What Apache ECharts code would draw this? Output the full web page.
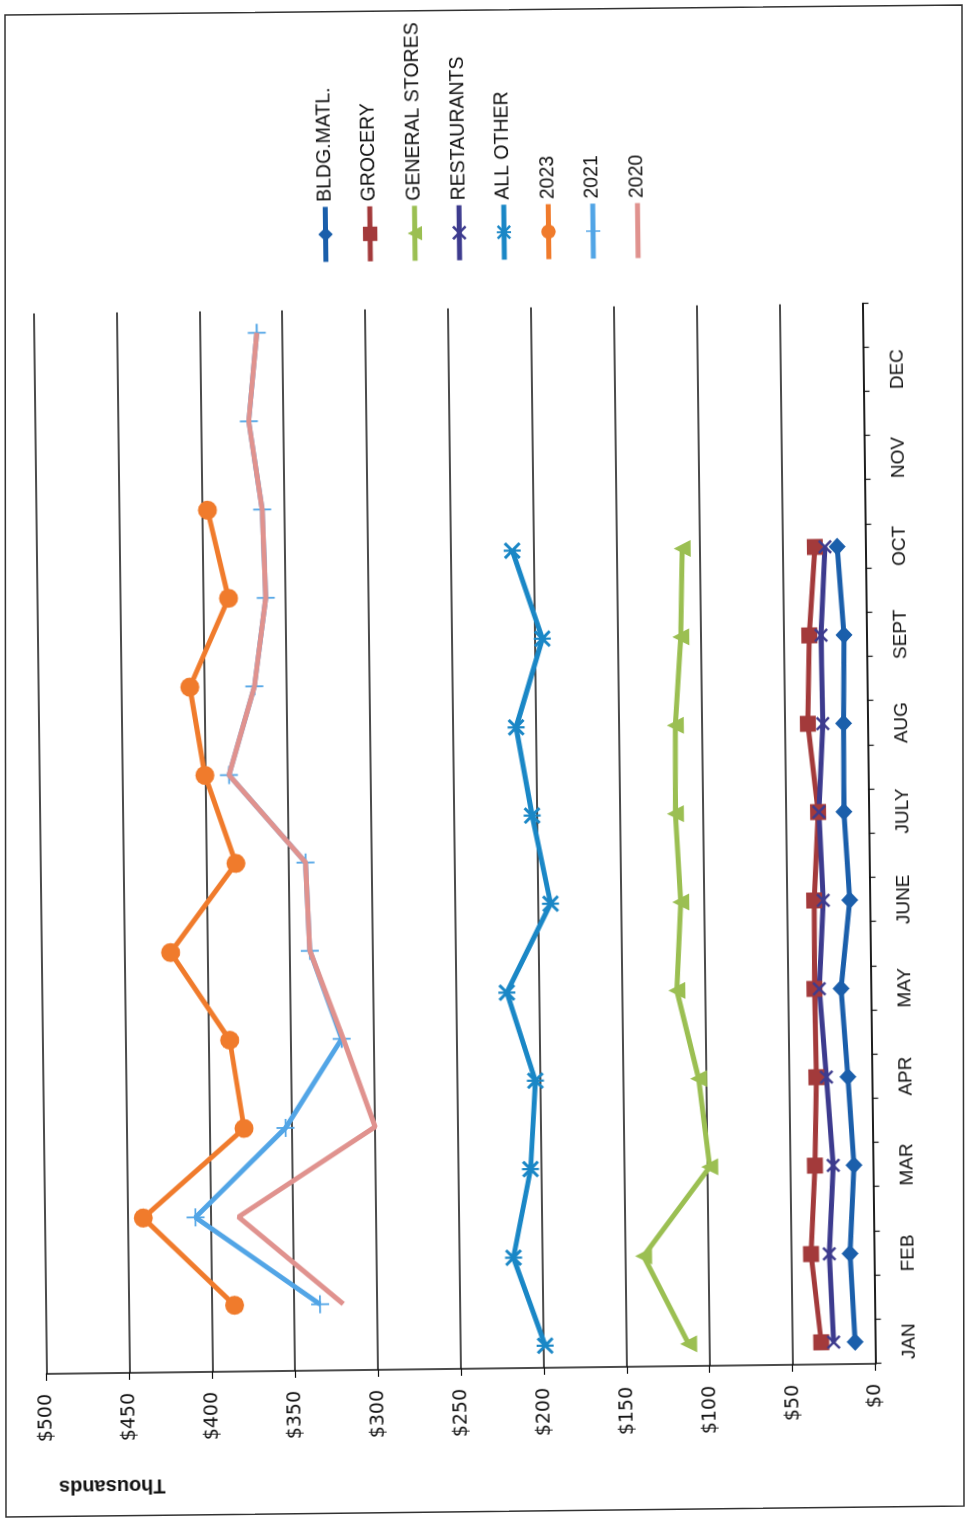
<!DOCTYPE html>
<html>
<head>
<meta charset="utf-8">
<script src="https://cdn.jsdelivr.net/npm/echarts@6/dist/echarts.min.js"></script>
<style>
  html, body { margin: 0; padding: 0; background: #fff; width: 966px; height: 1519px; overflow: hidden; }
  #wrap { position: absolute; left: -276.5px; top: 276.5px; width: 1519px; height: 966px;
          transform: rotate(-90.7deg); transform-origin: 50% 50%; background: #fff; }
  #chart { width: 1519px; height: 966px; }
  #frame { position: absolute; left: 0; top: 0; width: 966px; height: 1519px; pointer-events: none; }
</style>
</head>
<body>
<div id="wrap"><div id="chart"></div></div>
<svg id="frame" width="966" height="1519"><polygon points="5,15 962,5 964,1506 6,1517" fill="none" stroke="#333" stroke-width="1.5"/></svg>
<script>
// ---- data (thousands of dollars) ----
const months = ['JAN','FEB','MAR','APR','MAY','JUNE','JULY','AUG','SEPT','OCT','NOV','DEC'];
const bldgMatl    = [12, 14.5, 11.5, 14.5, 18, 12, 15, 14.5, 13.5, 17, null, null];
const grocery     = [32.5, 38, 35, 33.5, 34, 33.5, 30.5, 36, 34.5, 30.5, null, null];
const generalStores = [112.5, 139, 98.5, 104.5, 117, 114, 116.5, 116, 112, 110.5, null, null];
const restaurants = [25, 27, 24, 27.5, 31, 28, 30, 27, 27.5, 24.5, null, null];
const allOther    = [199, 217.5, 206.5, 203, 219.5, 192.5, 203, 212, 195.5, 213, null, null];
const y2023       = [386, 440.5, 379, 387, 422, 382, 400, 408.5, 384.5, 396.5, null, null];
const y2021       = [334.5, 409, 354, 319.5, 338, 340, 385.5, 369.5, 362, 363.5, 371, 365.5];
const y2020       = [320.5, 383, 300, 318.5, 338, 340, 385.5, 369.5, 362, 363.5, 371, 365.5];
const valueTicks  = { min: 0, max: 500, step: 50 };

// the axis has two slots per month: sector series on the first, year series on the second
const slots = [];
months.forEach(m => { slots.push(m); slots.push(''); });
function spread(arr, off) {
  const out = new Array(slots.length).fill(null);
  arr.forEach((v, i) => { out[2 * i + off] = v; });
  return out;
}

const X_PATH = 'path://M0,2.5 L2.5,0 L10,7.5 L17.5,0 L20,2.5 L12.5,10 L20,17.5 L17.5,20 L10,12.5 L2.5,20 L0,17.5 L7.5,10 Z';
const STAR_PATH = 'path://M0,2.5 L2.5,0 L10,7.5 L17.5,0 L20,2.5 L12.5,10 L20,17.5 L17.5,20 L10,12.5 L2.5,20 L0,17.5 L7.5,10 Z M8.7,0 L11.3,0 L11.3,20 L8.7,20 Z';
const PLUS_PATH = 'path://M9,0 L11,0 L11,9 L20,9 L20,11 L11,11 L11,20 L9,20 L9,11 L0,11 L0,9 L9,9 Z';
const BAR_ICON = 'path://M0,0 L0.01,0 L0,0.01 Z M0,6.5 L55,6.5 L55,11.5 L0,11.5 Z M54.99,18 L55,18 L55,17.99 Z';

function mk(name, data, off, color, symbol, size, z) {
  return {
    name: name, type: 'line', data: spread(data, off), connectNulls: true,
    symbol: symbol, symbolSize: size, showAllSymbol: true, z: z || 2,
    lineStyle: { color: color, width: 5 },
    itemStyle: { color: color, borderWidth: 0 },
    emphasis: { disabled: true }, silent: true
  };
}

const series = [
  mk('BLDG.MATL.', bldgMatl, 0, '#1b5fab', 'diamond', [18, 17]),
  mk('GROCERY', grocery, 0, '#a33a3b', 'rect', 16),
  mk('GENERAL STORES', generalStores, 0, '#9bbf52', 'triangle', 17),
  mk('RESTAURANTS', restaurants, 0, '#3d3b8e', X_PATH, 14),
  mk('ALL OTHER', allOther, 0, '#1a87c6', STAR_PATH, 17),
  mk('2023', y2023, 1, '#f07b2c', 'circle', 19),
  mk('2021', y2021, 1, '#52a5e6', PLUS_PATH, 18),
  mk('2020', y2020, 1, '#e0928e', 'none', 0, 3)
];

const legendData = series.map(s => s.name === '2020' ? { name: s.name, icon: BAR_ICON } : s.name);

const chart = echarts.init(document.getElementById('chart'), null, { renderer: 'canvas' });
chart.setOption({
  animation: false,
  backgroundColor: '#fff',
  grid: { left: 151, top: 38.5, width: 1060.5, height: 829, containLabel: false },
  legend: {
    orient: 'vertical', left: 1252, top: 316.5,
    itemWidth: 55, itemHeight: 18, itemGap: 24.6,
    selectedMode: false,
    lineStyle: { width: 5 },
    textStyle: { fontFamily: 'Liberation Sans, Arial, sans-serif', fontSize: 19.5, lineHeight: 20, color: '#111' },
    data: legendData
  },
  xAxis: {
    type: 'category', data: slots, boundaryGap: true,
    axisLine: { show: true, lineStyle: { color: '#111', width: 1.5 } },
    axisTick: { show: true, interval: 0, length: 6, lineStyle: { color: '#111', width: 1.2 } },
    axisLabel: { interval: 0, margin: 25, fontFamily: 'Liberation Sans, Arial, sans-serif', fontSize: 19, color: '#111' },
    splitLine: { show: false }
  },
  yAxis: {
    type: 'value', min: valueTicks.min, max: valueTicks.max, interval: valueTicks.step,
    axisLine: { show: true, lineStyle: { color: '#111', width: 1.5 } },
    axisTick: { show: true, length: 7, lineStyle: { color: '#111', width: 1.2 } },
    axisLabel: { formatter: '${value}', margin: 20, fontFamily: 'DejaVu Sans, sans-serif', fontSize: 19, color: '#111' },
    splitLine: { show: true, lineStyle: { color: '#111', width: 1.5 } }
  },
  graphic: [
    { type: 'text', silent: true, x: 38.5, y: 103, rotation: Math.PI / 2,
      style: { text: 'Thousands', font: 'bold 20px "Liberation Sans", Arial, sans-serif', fill: '#111',
               align: 'center', verticalAlign: 'middle' } }
  ],
  series: series
});
</script>
</body>
</html>
